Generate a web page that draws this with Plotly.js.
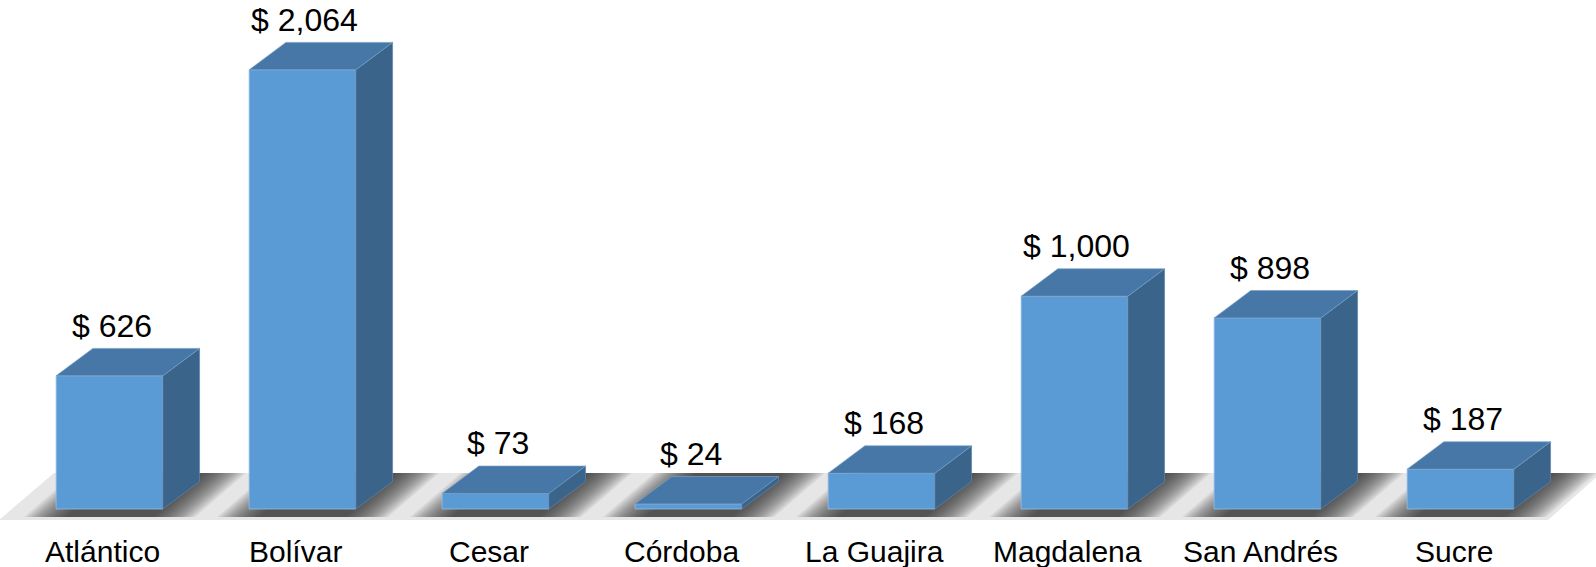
<!DOCTYPE html>
<html>
<head>
<meta charset="utf-8">
<script src="https://cdn.plot.ly/plotly-3.0.1.min.js"></script>
<style>html,body{margin:0;padding:0;background:#fff;}#chart{width:1596px;height:567px;}</style>
</head>
<body>
<div id="chart"></div>
<script>
// ---- data ----
const categories = ["Atlántico", "Bolívar", "Cesar", "Córdoba", "La Guajira", "Magdalena", "San Andrés", "Sucre"];
const values = [626, 2064, 73, 24, 168, 1000, 898, 187];
const valueLabels = values.map(v => "$ " + v.toLocaleString("en-US"));

// ---- geometry (pixel frame of the figure) ----
const W = 1596, H = 567;
const X0 = 109.5, SP = 193;      // px of first category, px per category
const Y0 = 509, K = 0.2128;      // px of zero line, px per unit
const xRange = [(0 - X0) / SP, (W - X0) / SP];
const yRange = [(Y0 - H) / K, Y0 / K];
const xd = px => (px - X0) / SP;
const vd = py => (Y0 - py) / K;

const BW = 0.553;                // bar width (category units)
const DX = 36.7 / SP;            // depth offset x (category units)
const DV = 27.4 / K;             // depth offset y (value units)

const FRONT = "#5B9BD5", TOP = "#4677A6", SIDE = "#3A648A";

const idx = categories.map((c, i) => i);

// top and side faces
const topX = [], topY = [], sideX = [], sideY = [];
idx.forEach(i => {
  const l = i - BW / 2, r = i + BW / 2, v = values[i];
  topX.push(l, r, r + DX, l + DX, l, null);
  topY.push(v, v, v + DV, v + DV, v, null);
  sideX.push(r, r + DX, r + DX, r, r, null);
  sideY.push(0, DV, v + DV, v, 0, null);
});

const traces = [
  {type: "bar", x: idx, y: values, width: BW,
   marker: {color: FRONT, line: {color: "rgba(150,190,228,0.8)", width: 1}},
   hoverinfo: "none"},
  {type: "scatter", x: sideX, y: sideY, mode: "lines", fill: "toself",
   fillcolor: SIDE, line: {color: "rgba(95,135,175,0.7)", width: 1}, hoverinfo: "none"},
  {type: "scatter", x: topX, y: topY, mode: "lines", fill: "toself",
   fillcolor: TOP, line: {color: "rgba(120,160,200,0.7)", width: 1}, hoverinfo: "none"}
];

// ---- floor (shadowed plane) ----
const P = (px, py) => xd(px) + "," + vd(py);
const FF = 517, FB = 473, S = 51;   // floor front y, back y, slant x
const shapes = [];
shapes.push({type: "path", layer: "below", line: {width: 0}, fillcolor: "#e6e6e6",
  path: "M" + P(-1, 520) + " L" + P(3 + S, FB) + " L" + P(W + 5, FB) + " L" + P(1545 + 3, 520) + " Z"});
const NL = 18;
const ext = Array.from({length: NL}, (_, k) => 32 - k * 42 / (NL - 1));
idx.forEach(i => {
  const a = X0 + SP * (i - BW / 2), b = X0 + SP * (i + BW / 2);
  ext.forEach(e => {
    shapes.push({type: "path", layer: "below", line: {width: 0},
      fillcolor: "rgba(35,35,35,0.075)",
      path: "M" + P(a - e, FF) + " L" + P(a - e + S, FB) + " L" + P(b + e + S, FB) + " L" + P(b + e, FF) + " Z"});
  });
});

// ---- texts ----
const annotations = [];
idx.forEach(i => {
  annotations.push({x: i, y: values[i], xref: "x", yref: "y", text: valueLabels[i],
    showarrow: false, yanchor: "middle", yshift: 50, xshift: 2,
    font: {family: "Liberation Sans, Arial, sans-serif", size: 32, color: "#000"}});
  annotations.push({x: i, y: vd(551), xref: "x", yref: "y", text: categories[i],
    showarrow: false, yanchor: "middle", xshift: -7,
    font: {family: "Liberation Sans, Arial, sans-serif", size: 30, color: "#000"}});
});

const layout = {
  width: W, height: H, autosize: false,
  margin: {l: 0, r: 0, t: 0, b: 0, pad: 0},
  paper_bgcolor: "#fff", plot_bgcolor: "#fff",
  showlegend: false,
  xaxis: {range: xRange, visible: false, fixedrange: true},
  yaxis: {range: yRange, visible: false, fixedrange: true},
  shapes: shapes, annotations: annotations
};

Plotly.newPlot("chart", traces, layout, {displayModeBar: false, staticPlot: true});
</script>
</body>
</html>
